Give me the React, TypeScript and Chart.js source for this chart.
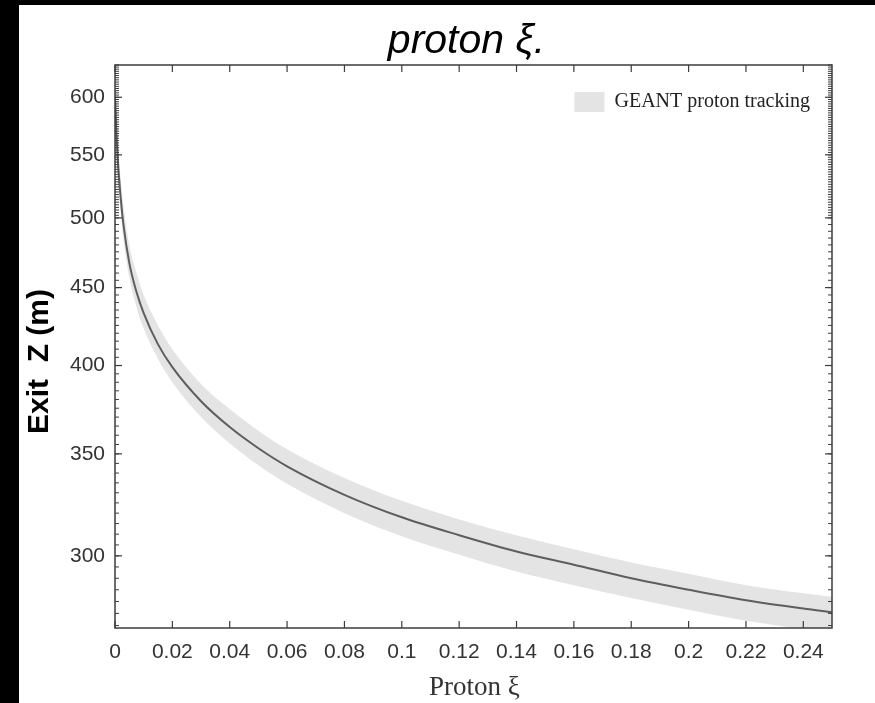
import React, { useEffect, useRef } from "react";
import { Chart, registerables } from "chart.js";

Chart.register(...registerables);

// ---- data ----
const XI = [0, 0.0005, 0.001, 0.002, 0.003, 0.005, 0.0075, 0.01, 0.015, 0.02, 0.03, 0.04, 0.05, 0.06, 0.08, 0.1, 0.12, 0.14, 0.16, 0.18, 0.2, 0.22, 0.24, 0.25];
const EXIT_Z = [600, 568, 545, 515, 494, 467, 447, 433, 413, 399, 379, 364.5, 353, 343.5, 329, 318, 309.5, 302, 296, 290, 285, 280.5, 277, 275.5];
const BAND_UPPER = [618, 585, 561, 530, 508, 480, 460, 445, 425, 410, 389, 374.5, 362.5, 352.5, 337.5, 326, 317, 309.5, 303, 297, 292, 287, 283.5, 282];
const BAND_LOWER = [588, 556, 533, 504, 483, 457, 437, 423, 404, 390, 370, 355.5, 344, 334.5, 320, 309, 300.5, 293, 287, 281.5, 276.5, 272, 268.5, 267];

const X_TICKS = [0, 0.02, 0.04, 0.06, 0.08, 0.1, 0.12, 0.14, 0.16, 0.18, 0.2, 0.22, 0.24];
const Y_TICKS = [300, 350, 400, 450, 500, 550, 600];
const X_MIN = 0;
const X_MAX = 0.25;
const Y_MIN = 269;
const Y_MAX = 630;

const TITLE = "proton \u03BE.";
const X_TITLE = "Proton \u03BE";
const Y_TITLE = "Exit  Z (m)";
const LEGEND_LABEL = "GEANT proton tracking";

const BAND_COLOR = "#e4e4e4";
const LINE_COLOR = "#5e5e5e";
const AXIS_COLOR = "#3c3c3c";
const TEXT_COLOR = "#333333";

function minorTicks(): number[] {
  const out: number[] = [];
  for (let v = 270; v < 500; v += 5) out.push(v);
  for (let v = 500; v <= 630; v += 2) out.push(v);
  return out;
}

const decorPlugin = {
  id: "decor",
  afterDatasetsDraw(chart: any) {
    const { ctx, chartArea: a, scales } = chart;
    const xs = scales.x;
    const ys = scales.y;
    ctx.save();
    ctx.strokeStyle = AXIS_COLOR;
    ctx.lineWidth = 1.5;
    ctx.strokeRect(a.left, a.top, a.right - a.left, a.bottom - a.top);
    const seg = (x1: number, y1: number, x2: number, y2: number) => {
      ctx.beginPath();
      ctx.moveTo(x1, y1);
      ctx.lineTo(x2, y2);
      ctx.stroke();
    };
    ctx.lineWidth = 1.2;
    X_TICKS.forEach((v) => {
      const x = xs.getPixelForValue(v);
      seg(x, a.bottom, x, a.bottom - 7);
      seg(x, a.top, x, a.top + 7);
    });
    Y_TICKS.forEach((v) => {
      const y = ys.getPixelForValue(v);
      seg(a.left, y, a.left + 7, y);
      seg(a.right, y, a.right - 7, y);
    });
    ctx.lineWidth = 1;
    minorTicks().forEach((v) => {
      const y = ys.getPixelForValue(v);
      if (y < a.top || y > a.bottom) return;
      seg(a.left, y, a.left + 4, y);
      seg(a.right, y, a.right - 4, y);
    });

    // legend (inside plot, top-right)
    ctx.font = '20px "Liberation Serif", "Times New Roman", serif';
    const tw = ctx.measureText(LEGEND_LABEL).width;
    const textRight = a.right - 22;
    const ly = a.top + 37;
    ctx.fillStyle = BAND_COLOR;
    ctx.fillRect(textRight - tw - 40, ly - 10, 30, 20);
    ctx.fillStyle = "#222222";
    ctx.textAlign = "right";
    ctx.textBaseline = "middle";
    ctx.fillText(LEGEND_LABEL, textRight, ly);
    ctx.restore();
  },
  afterDraw(chart: any) {
    const { ctx, chartArea: a } = chart;
    ctx.save();
    // title
    ctx.fillStyle = "#000000";
    ctx.font = 'italic 41px "Liberation Sans", Arial, sans-serif';
    ctx.textAlign = "center";
    ctx.textBaseline = "alphabetic";
    ctx.fillText(TITLE, (a.left + a.right) / 2 - 7, 48);
    // x title
    ctx.fillStyle = TEXT_COLOR;
    ctx.font = '27px "Liberation Serif", "Times New Roman", serif';
    ctx.textBaseline = "middle";
    ctx.fillText(X_TITLE, (a.left + a.right) / 2 + 1, a.bottom + 60);
    // y title
    ctx.fillStyle = "#000000";
    ctx.font = 'bold 30px "Liberation Sans", Arial, sans-serif';
    ctx.translate(21, (a.top + a.bottom) / 2 + 15);
    ctx.rotate(-Math.PI / 2);
    ctx.fillText(Y_TITLE, 0, 0);
    ctx.restore();
  },
};

export default function App() {
  const canvasRef = useRef<HTMLCanvasElement | null>(null);

  useEffect(() => {
    if (!canvasRef.current) return;
    const pts = (vals: number[]) => XI.map((x, i) => ({ x, y: vals[i] }));
    const chart = new Chart(canvasRef.current, {
      type: "line",
      data: {
        datasets: [
          {
            label: "lower",
            data: pts(BAND_LOWER),
            borderWidth: 0,
            pointRadius: 0,
            fill: false,
            order: 3,
            cubicInterpolationMode: "monotone",
          },
          {
            label: LEGEND_LABEL,
            data: pts(BAND_UPPER),
            borderWidth: 0,
            pointRadius: 0,
            backgroundColor: BAND_COLOR,
            fill: "-1",
            order: 2,
            cubicInterpolationMode: "monotone",
          },
          {
            label: "center",
            data: pts(EXIT_Z),
            borderColor: LINE_COLOR,
            borderWidth: 2,
            pointRadius: 0,
            fill: false,
            order: 0,
            cubicInterpolationMode: "monotone",
          },
        ],
      },
      options: {
        animation: false,
        responsive: true,
        maintainAspectRatio: false,
        layout: { padding: { left: 0, right: 43, top: 60, bottom: 0 } },
        plugins: {
          legend: { display: false },
          title: { display: false },
          tooltip: { enabled: false },
        },
        scales: {
          x: {
            type: "linear",
            min: X_MIN,
            max: X_MAX,
            grid: { display: false, drawTicks: false },
            border: { display: false },
            afterBuildTicks: (s: any) => {
              s.ticks = X_TICKS.map((v) => ({ value: v }));
            },
            afterFit: (s: any) => {
              s.height = 75;
            },
            ticks: {
              autoSkip: false,
              maxRotation: 0,
              padding: 12,
              color: TEXT_COLOR,
              font: { family: '"Liberation Sans", Arial, sans-serif', size: 21 },
              callback: (v: any) => String(Number(Number(v).toFixed(2))),
            },
          },
          y: {
            type: "logarithmic",
            min: Y_MIN,
            max: Y_MAX,
            grid: { display: false, drawTicks: false },
            border: { display: false },
            afterBuildTicks: (s: any) => {
              s.ticks = Y_TICKS.map((v) => ({ value: v }));
            },
            afterFit: (s: any) => {
              s.width = 96;
            },
            ticks: {
              autoSkip: false,
              padding: 10,
              color: TEXT_COLOR,
              font: { family: '"Liberation Sans", Arial, sans-serif', size: 21 },
              callback: (v: any) => String(v),
            },
          },
        },
      },
      plugins: [decorPlugin],
    });
    return () => chart.destroy();
  }, []);

  return (
    <div style={{ position: "fixed", inset: 0, background: "#000000" }}>
      <div
        style={{
          position: "absolute",
          left: 19,
          top: 5,
          width: 856,
          height: 698,
          background: "#ffffff",
        }}
      >
        <canvas ref={canvasRef} />
      </div>
    </div>
  );
}
